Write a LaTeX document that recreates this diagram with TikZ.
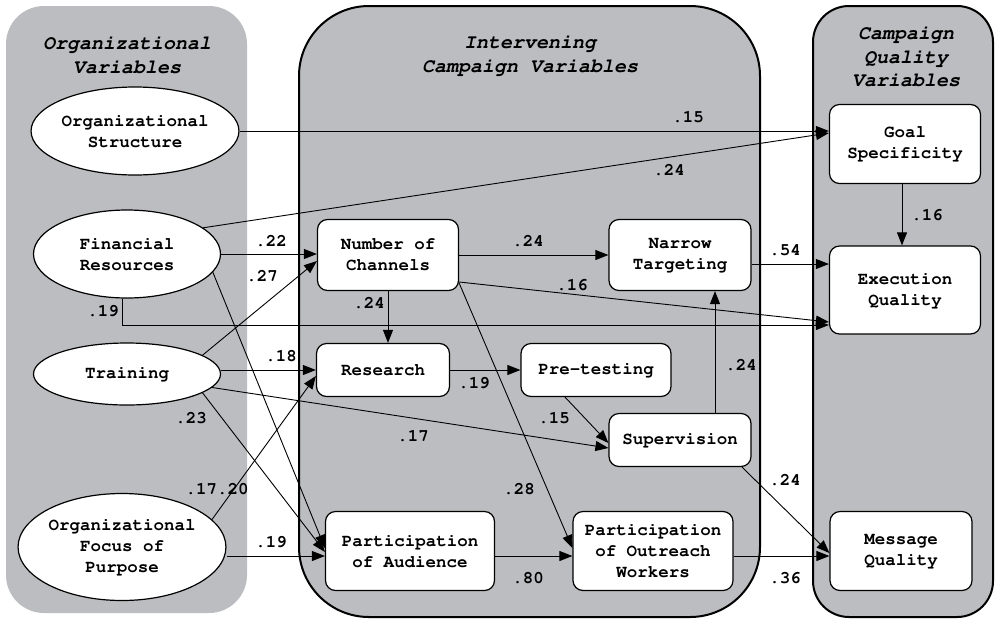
\documentclass[tikz,border=0pt]{standalone}
\usepackage[T1]{fontenc}
\usepackage{courier}
\usetikzlibrary{shapes.geometric,arrows.meta}
\definecolor{panelgray}{RGB}{188,189,192}
\newcommand\nodefnt{\fontsize{17.5}{21}\selectfont\ttfamily\bfseries}
\newcommand\titlefnt{\fontsize{20}{23.5}\selectfont\ttfamily\bfseries\itshape}
\tikzset{
  ell/.style={ellipse, draw, fill=white, line width=1.2pt, inner sep=0pt, align=center, font=\nodefnt},
  box/.style={rectangle, draw, fill=white, line width=1.2pt, rounded corners=10pt, inner sep=0pt, align=center, font=\nodefnt},
  lab/.style={inner sep=0pt, font=\nodefnt},
  ttl/.style={inner sep=0pt, align=center, font=\titlefnt},
  arr/.style={-{Triangle[length=13pt,width=10pt]}, line width=0.9pt},
}
\begin{document}
\begin{tikzpicture}[x=1pt,y=-1pt]
\useasboundingbox (0,0) rectangle (995,619);
% panels
\fill[panelgray, rounded corners=38pt] (6,6) rectangle (247,613);
\draw[fill=panelgray, line width=2pt, rounded corners=70pt] (299,6) rectangle (760,617);
\draw[fill=panelgray, line width=2pt, rounded corners=36pt] (813,6) rectangle (993,617);
% titles
\node[ttl] (t1) at (127,55) {Organizational\\Variables};
\node[ttl] (t2) at (530,55) {Intervening\\Campaign Variables};
\node[ttl] (t3) at (906,57) {Campaign\\Quality\\Variables};
% ellipses
\node[ell, minimum width=186pt, minimum height=88pt] (orgs) at (135,131) {Organizational\\Structure};
\node[ell, minimum width=187pt, minimum height=88pt] (fin) at (127,254) {Financial\\Resources};
\node[ell, minimum width=187pt, minimum height=62pt] (train) at (127,374) {Training};
\node[ell, minimum width=196pt, minimum height=107pt] (focus) at (122,547) {Organizational\\Focus of\\Purpose};
% boxes
\node[box, minimum width=141pt, minimum height=71pt] (noc) at (388,255) {Number of\\Channels};
\node[box, minimum width=133pt, minimum height=53pt] (res) at (383,370) {Research};
\node[box, minimum width=169pt, minimum height=79pt] (poa) at (410,551) {Participation\\of Audience};
\node[box, minimum width=150pt, minimum height=53pt] (pre) at (596,370) {Pre-testing};
\node[box, minimum width=142pt, minimum height=53pt] (sup) at (680,440) {Supervision};
\node[box, minimum width=160pt, minimum height=79pt] (poow) at (653,551) {Participation\\of Outreach\\Workers};
\node[box, minimum width=142pt, minimum height=71pt] (narrow) at (680,255) {Narrow\\Targeting};
\node[box, minimum width=151pt, minimum height=79pt] (goal) at (905,144) {Goal\\Specificity};
\node[box, minimum width=151pt, minimum height=88pt] (exec) at (905,290) {Execution\\Quality};
\node[box, minimum width=142pt, minimum height=79pt] (msg) at (901,551) {Message\\Quality};
% connectors
\draw[arr] (orgs.east) -- (orgs.east -| goal.west);
\draw[arr] (fin.19) -- ([yshift=11pt]goal.west);
\draw[arr] (fin.east) -- (fin.east -| noc.west);
\draw[arr] (fin.-12) -- ([yshift=3pt]poa.west);
\draw[arr] ([xshift=-5pt]fin.south) |- ([yshift=-35pt]exec.west);
\draw[arr] (noc.east) -- (narrow.west);
\draw[arr] ([yshift=-9pt]narrow.east) -- ([yshift=-9pt]narrow.east -| exec.west);
\draw[arr] ([yshift=-27pt]noc.east) -- ([yshift=-32pt]exec.west);
\draw[arr] (noc.south) -- (noc.south |- res.north);
\draw[arr] ([yshift=-28pt]noc.east) -- ([yshift=3pt]poow.west);
\draw[arr] (res.east) -- (pre.west);
\draw[arr] ([xshift=-31pt]pre.south) -- ([yshift=-3pt]sup.west);
\draw[arr] (train.-9) -- ([yshift=-8pt]sup.west);
\draw[arr] ([xshift=35pt]sup.north) -- ([xshift=35pt]narrow.south);
\draw[arr] ([xshift=62pt]sup.south) -- ([yshift=-2pt]msg.west);
\draw[arr] ([yshift=-5pt]poow.east) -- ([yshift=-5pt]poow.east -| msg.west);
\draw[arr] ([yshift=-5pt]poa.east) -- ([yshift=-5pt]poa.east -| poow.west);
\draw[arr] ([xshift=-3pt]goal.south) -- ([xshift=-3pt]goal.south |- exec.north);
\draw[arr] (train.14) -- ([yshift=-6pt]noc.west);
\draw[arr] ([yshift=4pt]train.east) -- ([yshift=4pt]train.east -| res.west);
\draw[arr] (train.-14) -- ([yshift=-1pt]poa.west);
\draw[arr] (focus.17) -- ([yshift=-6pt]res.west);
\draw[arr] ([yshift=-9pt]focus.east) -- ([yshift=-9pt]focus.east -| poa.west);
% labels
\node[lab] (l1) at (688,117) {.15};
\node[lab] (l2) at (669,170) {.24};
\node[lab] (l3) at (271,241) {.22};
\node[lab] (l4) at (262,276) {.27};
\node[lab] (l5) at (103,311) {.19};
\node[lab] (l6) at (528,241) {.24};
\node[lab] (l7) at (572,285) {.16};
\node[lab] (l8) at (785,250) {.54};
\node[lab] (l9) at (369,303) {.24};
\node[lab] (l10) at (281,356) {.18};
\node[lab] (l11) at (474,383) {.19};
\node[lab] (l12) at (191,418) {.23};
\node[lab] (l13) at (413,436) {.17};
\node[lab] (l14) at (554,418) {.15};
\node[lab] (l15) at (741,365) {.24};
\node[lab] (l16) at (217,489) {.17.20};
\node[lab] (l17) at (519,489) {.28};
\node[lab] (l18) at (785,480) {.24};
\node[lab] (l19) at (271,542) {.19};
\node[lab] (l20) at (528,578) {.80};
\node[lab] (l21) at (785,578) {.36};
\node[lab] (l22) at (927,215) {.16};
\end{tikzpicture}
\end{document}
